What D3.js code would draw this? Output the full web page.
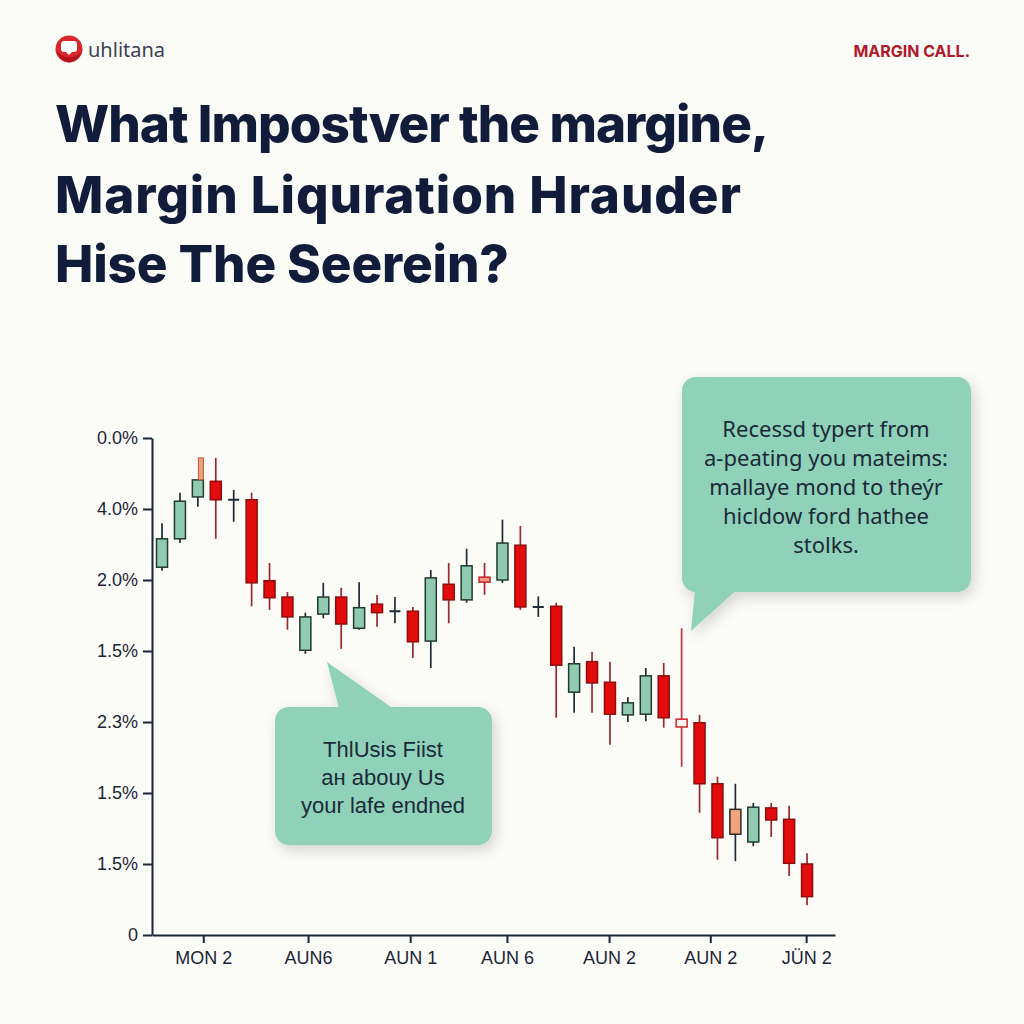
<!DOCTYPE html>
<html>
<head>
<meta charset="utf-8">
<script src="https://cdn.jsdelivr.net/npm/d3@7"></script>
<style>
  html, body { margin: 0; padding: 0; background: #fbfbf8; }
  svg { display: block; }
</style>
</head>
<body>
<svg id="chart" width="1024" height="1024"></svg>
<script>
// ---------- DATA ----------
const brandName = "uhlitana";
const badgeText = "MARGIN CALL.";
const titleLines = ["What Impostver the margine,", "Margin Liquration Hrauder", "Hise The Seerein?"];

const yTickValues = [0, 1, 2, 3, 4, 5, 6, 7];
const yTickLabels = ["0", "1.5%", "1.5%", "2.3%", "1.5%", "2.0%", "4.0%", "0.0%"];

const xTickValues = [2.3, 8.15, 13.85, 19.25, 24.95, 30.6, 35.95];
const xTickLabels = ["MON 2", "AUN6", "AUN 1", "AUN 6", "AUN 2", "AUN 2", "JÜN 2"];

const opens  = [5.18,5.58,6.17,6.39,6.13,6.13,4.99,4.76,4.01,4.52,4.76,4.32,4.66,4.56,4.56,4.14,4.94,4.72,5.04,5.00,5.49,4.62,4.63,3.42,3.85,3.56,3.10,3.11,3.65,3.04,2.99,2.13,1.77,1.31,1.79,1.63,1.00];
const closes = [5.58,6.11,6.41,6.13,6.13,4.96,4.75,4.48,4.48,4.76,4.38,4.61,4.54,4.56,4.13,5.03,4.72,5.20,4.97,5.52,4.62,4.62,3.80,3.82,3.55,3.11,3.27,3.65,3.06,2.93,2.13,1.37,1.42,1.80,1.62,1.01,0.54];
const highs  = [5.80,6.23,6.41,6.72,6.27,6.23,5.24,4.83,4.54,4.96,4.89,4.97,4.79,4.76,4.62,5.14,5.24,5.44,5.24,5.85,5.76,4.77,4.68,4.06,3.99,3.85,3.35,3.76,3.83,4.32,3.10,2.23,2.13,1.86,1.86,1.82,1.15];
const lows   = [5.13,5.52,6.03,5.58,5.82,4.63,4.58,4.30,3.96,4.46,4.03,4.30,4.34,4.39,3.90,3.76,4.39,4.68,4.79,4.96,4.58,4.48,3.06,3.13,3.13,2.68,3.00,3.01,2.92,2.37,1.72,1.06,1.04,1.25,1.38,0.83,0.42];
const kinds  = ["up","up","up","down","doji","down","down","down","up","up","down","up","down","doji","down","up","down","up","salmon","up","down","doji","down","up","down","down","up","up","down","hollow","down","down","orange","up","down","down","down"];

// thin orange spike on top of candle 2
const spikeIndex = [2];
const spikeFrom = [6.41];
const spikeTo = [6.72];

const calloutRight = ["Recessd typert from", "a-peating you mateims:", "mallaye mond to theýr", "hicldow ford hathee", "stolks."];
const calloutLeft = ["ThlUsis Fiist", "aн abouy Us", "your lafe endned"];

// ---------- STYLES ----------
const ink = "#1c2536";
const styles = {
  up:     { fill: "#90cbb1", stroke: "#233a32", wick: "#1f2b36" },
  down:   { fill: "#e20c0c", stroke: "#8f0d0d", wick: "#9a2a2a" },
  doji:   { fill: "none",    stroke: "#1f2b36", wick: "#1f2b36" },
  salmon: { fill: "#f19a86", stroke: "#c0262a", wick: "#9a2a2a" },
  hollow: { fill: "#fdf3f0", stroke: "#d0222a", wick: "#c2363a" },
  orange: { fill: "#f4a47c", stroke: "#2a2a2a", wick: "#1f2b36" }
};

const svg = d3.select("#chart");
svg.append("rect").attr("width", 1024).attr("height", 1024).attr("fill", "#fbfbf8");

const defs = svg.append("defs");
const f = defs.append("filter").attr("id", "shadow").attr("x", "-20%").attr("y", "-20%").attr("width", "150%").attr("height", "160%");
f.append("feDropShadow").attr("dx", 3).attr("dy", 5).attr("stdDeviation", 7).attr("flood-color", "#000").attr("flood-opacity", 0.16);

// ---------- HEADER ----------
const logo = svg.append("g").attr("transform", "translate(69,49)");
logo.append("circle").attr("r", 13.5).attr("fill", "#d8262a");
logo.append("path").attr("d", "M-8,-5 Q-8,-8 -5,-8 L5,-8 Q8,-8 8,-5 L8,0 Q8,3 5,3 L3,3 L0,6 L-3,3 L-5,3 Q-8,3 -8,0 Z").attr("fill", "#fff");
logo.append("path").attr("d", "M-12.5,3 Q0,14 12.5,3 Q8,12.5 0,13.5 Q-8,12.5 -12.5,3 Z").attr("fill", "#b0141c");

svg.append("text").attr("x", 88).attr("y", 57).text(brandName)
  .attr("font-family", "'Noto Sans', sans-serif").attr("font-size", 20).attr("fill", "#3b4252");

svg.append("text").attr("x", 970).attr("y", 57).attr("text-anchor", "end").text(badgeText)
  .attr("font-family", "Inter, sans-serif").attr("font-weight", 700).attr("font-size", 16).attr("fill", "#b3182a");

// ---------- TITLE ----------
const titleBase = [142, 213, 282];
const titleWidth = [713, 685, 453];
const tt = svg.append("g").selectAll("text").data(titleLines).join("text")
  .attr("x", 55).attr("y", (d, i) => titleBase[i])
  .attr("font-family", "Inter, sans-serif").attr("font-weight", 800)
  .attr("font-size", 50).attr("fill", "#111c3a")
  .text(d => d);
const w0 = tt.nodes()[0].getComputedTextLength();
const fs = 50 * (713 + 26) / w0;
tt.attr("font-size", fs).attr("letter-spacing", -1);
tt.each(function (d, i) {
  const w = this.getComputedTextLength();
  const ls = -1 + (titleWidth[i] - w) / (d.length - 1);
  d3.select(this).attr("letter-spacing", ls);
});

// ---------- SCALES ----------
const x = d3.scaleLinear().domain([-0.56, 37.56]).range([152, 835]);
const y = d3.scaleLinear().domain([0, 7]).range([935, 438]);

// axes
const yAxis = d3.axisLeft(y).tickValues(yTickValues).tickSize(9).tickSizeOuter(0)
  .tickFormat((d, i) => yTickLabels[i]);
const gy = svg.append("g").attr("transform", "translate(152,0)").call(yAxis);
gy.select(".domain").attr("stroke", ink).attr("stroke-width", 2);
gy.selectAll(".tick line").attr("stroke", ink).attr("stroke-width", 2);
gy.selectAll(".tick text").attr("x", -14).attr("font-family", "'Liberation Sans', Arial, sans-serif")
  .attr("font-size", 18).attr("fill", ink);

const xAxis = d3.axisBottom(x).tickValues(xTickValues).tickSize(8).tickSizeOuter(0)
  .tickFormat((d, i) => xTickLabels[i]);
const gx = svg.append("g").attr("transform", "translate(0,935)").call(xAxis);
gx.select(".domain").attr("stroke", ink).attr("stroke-width", 2);
gx.selectAll(".tick line").attr("stroke", ink).attr("stroke-width", 2);
gx.selectAll(".tick text").attr("y", 16).attr("font-family", "'Liberation Sans', Arial, sans-serif")
  .attr("font-size", 18).attr("fill", ink);

// ---------- CANDLES ----------
const candles = opens.map((o, i) => ({ i, o, c: closes[i], h: highs[i], l: lows[i], k: kinds[i] }));
const bw = 11;
const cg = svg.append("g");
const cand = cg.selectAll("g.c").data(candles).join("g").attr("class", "c");
cand.append("line")
  .attr("x1", d => x(d.i)).attr("x2", d => x(d.i))
  .attr("y1", d => y(d.h)).attr("y2", d => y(d.l))
  .attr("stroke", d => styles[d.k].wick).attr("stroke-width", 1.7);
cand.filter(d => d.k !== "doji").append("rect")
  .attr("x", d => x(d.i) - bw / 2)
  .attr("y", d => y(Math.max(d.o, d.c)))
  .attr("width", bw)
  .attr("height", d => Math.max(3, Math.abs(y(d.o) - y(d.c))))
  .attr("fill", d => styles[d.k].fill)
  .attr("stroke", d => styles[d.k].stroke).attr("stroke-width", 1.5);
cand.filter(d => d.k === "doji").append("line")
  .attr("x1", d => x(d.i) - bw / 2).attr("x2", d => x(d.i) + bw / 2)
  .attr("y1", d => y(d.o)).attr("y2", d => y(d.o))
  .attr("stroke", styles.doji.stroke).attr("stroke-width", 2);

// orange spike
cg.selectAll("rect.spike").data(spikeIndex).join("rect").attr("class", "spike")
  .attr("x", (d) => x(d) + 0.5)
  .attr("y", (d, i) => y(spikeTo[i]))
  .attr("width", 5)
  .attr("height", (d, i) => y(spikeFrom[i]) - y(spikeTo[i]))
  .attr("fill", "#f0a07a").attr("stroke", "#b05a3a").attr("stroke-width", 1);

// ---------- CALLOUTS ----------
const mint = "#8fd1b9";
const cr = svg.append("g").attr("filter", "url(#shadow)");
cr.append("rect").attr("x", 682).attr("y", 377).attr("width", 289).attr("height", 215).attr("rx", 14).attr("fill", mint);
cr.append("path").attr("d", "M696,580 L748,580 L691,631 Z").attr("fill", mint);
svg.append("g").selectAll("text").data(calloutRight).join("text")
  .attr("x", 826).attr("y", (d, i) => 437 + i * 29)
  .attr("text-anchor", "middle").attr("font-family", "'Noto Sans', sans-serif")
  .attr("font-size", 22).attr("fill", "#1a2b38").text(d => d);

const cl = svg.append("g").attr("filter", "url(#shadow)");
cl.append("rect").attr("x", 275).attr("y", 707).attr("width", 217).attr("height", 138).attr("rx", 14).attr("fill", mint);
cl.append("path").attr("d", "M340,712 L398,712 L327,662 Z").attr("fill", mint);
svg.append("g").selectAll("text").data(calloutLeft).join("text")
  .attr("x", 383).attr("y", (d, i) => 757 + i * 28)
  .attr("text-anchor", "middle").attr("font-family", "'Liberation Sans', Arial, sans-serif")
  .attr("font-size", 22).attr("fill", "#1a2b38").text(d => d);
</script>
</body>
</html>
